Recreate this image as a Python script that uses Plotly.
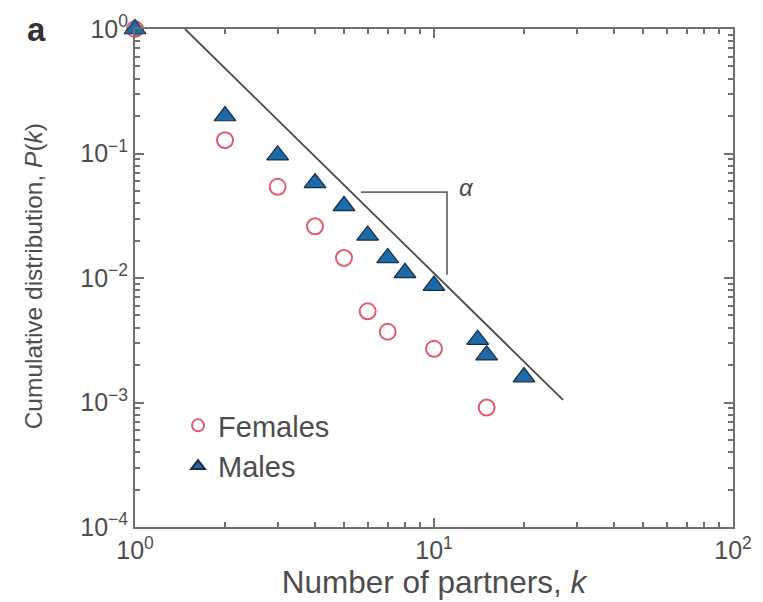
import math
import plotly.graph_objects as go

# Data
k_females = [1, 2, 3, 4, 5, 6, 7, 10, 15]
P_females = [1.0, 0.128, 0.054, 0.026, 0.0145, 0.0054, 0.0037, 0.0027, 0.00091]

k_males = [1, 2, 3, 4, 5, 6, 7, 8, 10, 14, 15, 20]
P_males = [1.0, 0.20, 0.097, 0.058, 0.038, 0.022, 0.0145, 0.011, 0.0087, 0.0032, 0.0024, 0.0016]

# Power-law guide line and slope bracket
k_fit = [1.47, 27]
P_fit = [1.0, 0.00105]
k_bracket = [5.7, 11.05, 11.05]
P_bracket = [0.049, 0.049, 0.0106]
alpha_pos = (11.9, 0.053)

x_tickvals = [1, 10, 100]
x_ticktext = ["10<sup>0</sup>", "10<sup>1</sup>", "10<sup>2</sup>"]
y_tickvals = [1e-4, 1e-3, 1e-2, 1e-1, 1]
y_ticktext = ["10<sup>−4</sup>", "10<sup>−3</sup>", "10<sup>−2</sup>", "10<sup>−1</sup>", "10<sup>0</sup>"]

FONT = "Liberation Sans, Arial, Helvetica, sans-serif"
TXT = "#4d4d4d"
AX = "#707070"

def minor_vals(lo_exp, hi_exp):
    return [m * 10 ** e for e in range(lo_exp, hi_exp) for m in range(2, 10)]

fig = go.Figure()

fig.add_trace(go.Scatter(x=k_fit, y=P_fit, mode="lines",
                         line=dict(color="#4a4a4a", width=1.8),
                         showlegend=False, hoverinfo="skip"))
fig.add_trace(go.Scatter(x=k_bracket, y=P_bracket, mode="lines",
                         line=dict(color="#6a6a6a", width=1.8),
                         showlegend=False, hoverinfo="skip"))

fig.add_trace(go.Scatter(x=k_females, y=P_females, mode="markers", name="Females",
                         marker=dict(symbol="circle-open", size=16,
                                     color="#e05a70", line=dict(width=2, color="#e05a70")),
                         cliponaxis=False))
fig.add_trace(go.Scatter(x=k_males, y=P_males, mode="markers", name="Males",
                         marker=dict(symbol="triangle-up", size=19,
                                     color="#1c6aa6", line=dict(width=1.2, color="#1b2d45")),
                         cliponaxis=False))

fig.add_annotation(x=math.log10(alpha_pos[0]), y=math.log10(alpha_pos[1]), xref="x", yref="y",
                   text="<i>α</i>", showarrow=False, xanchor="left", yanchor="middle",
                   font=dict(size=24, color=TXT, family=FONT))
fig.add_annotation(x=-0.165, y=1.0, xref="paper", yref="paper",
                   text="<b>a</b>", showarrow=False, xanchor="center", yanchor="middle",
                   font=dict(size=33, color="#333", family=FONT))
# y-axis title (positioned as in the reference)
fig.add_annotation(x=-0.170, y=0.504, xref="paper", yref="paper", textangle=-90,
                   text="Cumulative distribution, <i>P</i>(<i>k</i>)", showarrow=False,
                   xanchor="center", yanchor="middle",
                   font=dict(size=24.5, color=TXT, family=FONT))

axis_common = dict(type="log", showgrid=False, zeroline=False, showline=True,
                   linecolor=AX, linewidth=2, ticks="inside", ticklen=9,
                   tickwidth=1.5, tickcolor=AX, mirror="allticks",
                   tickfont=dict(size=25, color=TXT, family=FONT))

fig.update_xaxes(**axis_common, range=[0, 2], tickmode="array",
                 tickvals=x_tickvals, ticktext=x_ticktext,
                 minor=dict(tickmode="array", tickvals=minor_vals(0, 2),
                            ticks="inside", ticklen=5, tickcolor=AX, tickwidth=1.5),
                 title=dict(text="Number of partners, <i>k</i>", standoff=6,
                            font=dict(size=31.5, color=TXT, family=FONT)))
fig.update_yaxes(**axis_common, range=[-4, 0], tickmode="array",
                 tickvals=y_tickvals, ticktext=y_ticktext,
                 minor=dict(tickmode="array", tickvals=minor_vals(-4, 0),
                            ticks="inside", ticklen=5, tickcolor=AX, tickwidth=1.5))

fig.update_layout(
    width=755, height=594,
    margin=dict(l=127, r=30, t=21, b=75, autoexpand=False),
    paper_bgcolor="white", plot_bgcolor="white",
    font=dict(family=FONT, color=TXT),
    legend=dict(x=0.072, y=0.255, xanchor="left", yanchor="top",
                bgcolor="rgba(0,0,0,0)", font=dict(size=29, color=TXT, family=FONT),
                itemsizing="constant"),
)

fig.write_html("out.html")
